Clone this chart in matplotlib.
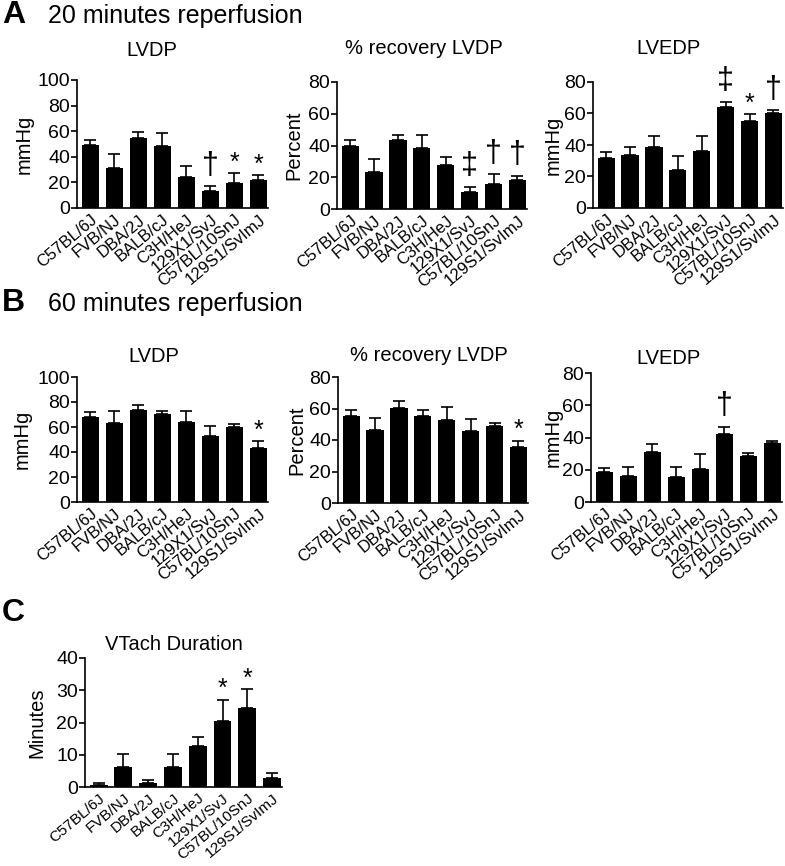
import numpy as np
import matplotlib.pyplot as plt

plt.rcParams['font.family'] = ['Liberation Sans', 'DejaVu Sans']

W, H = 785, 866

strains = ['C57BL/6J', 'FVB/NJ', 'DBA/2J', 'BALB/cJ', 'C3H/HeJ',
           '129X1/SvJ', 'C57BL/10SnJ', '129S1/SvImJ']

# panel A - 20 min reperfusion
a_lvdp = [49, 31.5, 55, 48.5, 24.5, 13, 19.5, 21.5]
a_lvdp_err = [4, 11, 4.5, 10, 8, 4, 7.5, 4]
a_lvdp_sig = ['', '', '', '', '', '†', '*', '*']
a_rec = [40, 23.5, 43.5, 38.5, 28, 11, 16, 18]
a_rec_err = [3.5, 8, 3, 8, 5, 3, 6, 3]
a_rec_sig = ['', '', '', '', '', '‡', '†', '†']
a_lvedp = [32, 33.5, 39, 24, 36.5, 64, 55, 60]
a_lvedp_err = [3.5, 5.5, 6.5, 9, 9, 3.5, 4.5, 2]
a_lvedp_sig = ['', '', '', '', '', '‡', '*', '†']

# panel B - 60 min reperfusion
b_lvdp = [68, 63.5, 73.5, 70.5, 64, 53, 60, 43.5]
b_lvdp_err = [4, 9, 4.5, 2, 8.5, 8, 2.5, 5]
b_lvdp_sig = ['', '', '', '', '', '', '', '*']
b_rec = [55.5, 46.5, 60.5, 55.5, 52.5, 46, 49, 35.5]
b_rec_err = [3.5, 7.5, 4.5, 3.5, 8.5, 7.5, 2, 4]
b_rec_sig = ['', '', '', '', '', '', '', '*']
b_lvedp = [18.5, 16, 31, 15.5, 20.5, 42, 28.5, 36.5]
b_lvedp_err = [2.5, 5.5, 5, 6.5, 9.5, 4.5, 2, 1.3]
b_lvedp_sig = ['', '', '', '', '', '†', '', '']

# panel C - VTach
c_vtach = [0.6, 6.3, 1.3, 6.1, 12.7, 20.5, 24.6, 2.8]
c_vtach_err = [0.5, 3.8, 1.0, 4.2, 2.9, 6.6, 5.7, 1.5]
c_vtach_sig = ['', '', '', '', '', '*', '*', '']

fig = plt.figure(figsize=(W / 100, H / 100), dpi=100)


def px_text(x, y, s, **kw):
    fig.text(x / W, 1 - y / H, s, **kw)


def bar_panel(left, top, right, bottom, vals, errs, sigs, ymax, step,
              title, title_x, title_y, ylabel, ylabel_x, xfs=12):
    ax = fig.add_axes([left / W, 1 - bottom / H, (right - left) / W, (bottom - top) / H])
    x = np.arange(len(vals))
    ax.bar(x, vals, width=0.72, color='black')
    ax.errorbar(x, vals, yerr=[np.zeros(len(vals)), errs], fmt='none',
                ecolor='black', elinewidth=1.2, capsize=4, capthick=1.2)
    for xi, v, e, s in zip(x, vals, errs, sigs):
        if s == '*':
            ax.annotate(s, (xi, v + e), xytext=(0, -1), textcoords='offset points',
                        ha='center', va='bottom', fontsize=18)
        elif s:
            ax.annotate(s, (xi, v + e), xytext=(0, 4), textcoords='offset points',
                        ha='center', va='bottom', fontsize=22)
    ax.set_xlim(-0.55, len(vals) - 0.6)
    ax.set_ylim(0, ymax)
    ax.set_yticks(np.arange(0, ymax + 1, step))
    ax.set_xticks(x)
    ax.set_xticklabels(strains, rotation=40, ha='right', rotation_mode='anchor', fontsize=xfs)
    ax.tick_params(axis='x', length=0, pad=3)
    ax.tick_params(axis='y', length=4, width=1.2, labelsize=14, pad=1)
    for sp in ['top', 'right']:
        ax.spines[sp].set_visible(False)
    for sp in ['left', 'bottom']:
        ax.spines[sp].set_linewidth(1.2)
    px_text(title_x, title_y, title, ha='center', va='center', fontsize=14.5)
    px_text(ylabel_x, (top + bottom) / 2, ylabel, ha='center', va='center',
            rotation=90, fontsize=14.5)
    return ax


# section headings
px_text(2, 15, 'A', fontsize=23, fontweight='bold', va='center')
px_text(48, 16, '20 minutes reperfusion', fontsize=18, va='center')
px_text(2, 303, 'B', fontsize=23, fontweight='bold', va='center')
px_text(48, 304, '60 minutes reperfusion', fontsize=18, va='center')
px_text(2, 613, 'C', fontsize=23, fontweight='bold', va='center')

bar_panel(77, 80, 268, 208, a_lvdp, a_lvdp_err, a_lvdp_sig, 100, 20,
          'LVDP', 152, 51, 'mmHg', 24)
bar_panel(337, 82, 527, 209, a_rec, a_rec_err, a_rec_sig, 80, 20,
          '% recovery LVDP', 424, 48, 'Percent', 294)
bar_panel(593, 82, 783, 208, a_lvedp, a_lvedp_err, a_lvedp_sig, 80, 20,
          'LVEDP', 668, 48, 'mmHg', 553)

bar_panel(77, 377, 268, 502, b_lvdp, b_lvdp_err, b_lvdp_sig, 100, 20,
          'LVDP', 154, 356, 'mmHg', 22)
bar_panel(338, 377, 528, 503, b_rec, b_rec_err, b_rec_sig, 80, 20,
          '% recovery LVDP', 429, 355, 'Percent', 297)
bar_panel(591, 373, 782, 502, b_lvedp, b_lvedp_err, b_lvedp_sig, 80, 20,
          'LVEDP', 669, 358, 'mmHg', 553)

bar_panel(85, 658, 282, 787, c_vtach, c_vtach_err, c_vtach_sig, 40, 10,
          'VTach Duration', 174, 645, 'Minutes', 37, xfs=11)

fig.savefig('out.png', dpi=100)
